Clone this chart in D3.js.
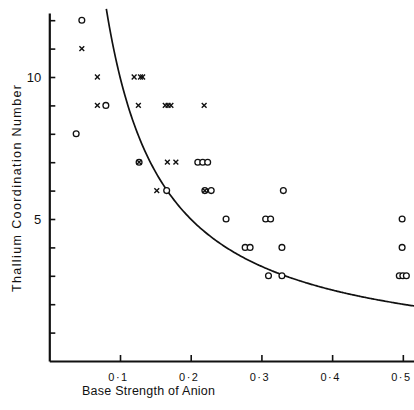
<!DOCTYPE html>
<html>
<head>
<meta charset="utf-8">
<script src="https://cdn.jsdelivr.net/npm/d3@7"></script>
<style>
  html, body { margin: 0; padding: 0; background: #fff; }
  svg { display: block; }
  text { font-family: "Liberation Sans", Arial, sans-serif; fill: #111; }
</style>
</head>
<body>
<div id="chart"></div>
<script>
// ---- data ----
const circleX = [0.046, 0.038, 0.080, 0.166, 0.127, 0.210, 0.217, 0.224, 0.220, 0.229, 0.331,
                 0.250, 0.306, 0.313, 0.277, 0.284, 0.329, 0.310, 0.329, 0.499, 0.499, 0.495, 0.500, 0.505];
const circleY = [12, 8, 9, 6, 7, 7, 7, 7, 6, 6, 6,
                 5, 5, 5, 4, 4, 4, 3, 3, 5, 4, 3, 3, 3];
const crossX = [0.046, 0.068, 0.120, 0.129, 0.132, 0.068, 0.126, 0.164, 0.168, 0.172, 0.219,
                0.127, 0.167, 0.179, 0.152, 0.220];
const crossY = [11, 10, 10, 10, 10, 9, 9, 9, 9, 9, 9,
                7, 7, 7, 6, 6];
const xTickValues = [0.1, 0.2, 0.3, 0.4, 0.5];
const xTickLabels = ["0·1", "0·2", "0·3", "0·4", "0·5"];
const yTickValues = [1, 2, 3, 4, 5, 6, 7, 8, 9, 10, 11, 12];
const yLabelled = [5, 10];
const curveK = 1;           // coordination number = 1 / base strength
const curveYMax = 12.4;
const xTitle = "Base  Strength of Anion";
const yTitle = "Thallium Coordination Number";

// ---- layout ----
const W = 414, H = 410;
const svg = d3.select("#chart").append("svg").attr("width", W).attr("height", H);

const x = d3.scaleLinear().domain([0, 0.5165]).range([49.3, 414.5]);
const y = d3.scaleLinear().domain([0, 12.25]).range([361, 13.1]);

// axes
const xAxis = d3.axisBottom(x).tickValues(xTickValues)
  .tickSizeInner(-6).tickSizeOuter(0)
  .tickFormat((d, i) => xTickLabels[i]);
const gx = svg.append("g").attr("transform", `translate(0,${y(0)})`).call(xAxis);
gx.select(".domain").attr("stroke", "#111").attr("stroke-width", 1.8);
gx.selectAll(".tick line").attr("stroke", "#111").attr("stroke-width", 1.6);
gx.selectAll(".tick text").attr("y", 12).attr("x", -2).attr("dy", "0.71em")
  .style("font-size", "11px").style("letter-spacing", "1.5px")
  .style("font-family", "'Liberation Sans', Arial, sans-serif");

const yAxis = d3.axisLeft(y).tickValues(yTickValues)
  .tickSizeInner(-6).tickSizeOuter(0)
  .tickFormat(d => yLabelled.includes(d) ? String(d) : "");
const gy = svg.append("g").attr("transform", `translate(${x(0)},0)`).call(yAxis);
gy.select(".domain").attr("stroke", "#111").attr("stroke-width", 2.2);
gy.selectAll(".tick line").attr("stroke", "#111").attr("stroke-width", 1.6);
gy.selectAll(".tick text").attr("x", -8)
  .style("font-size", "13px")
  .style("font-family", "'Liberation Sans', Arial, sans-serif");

// titles
svg.append("text")
  .attr("x", 82).attr("y", 394.5)
  .attr("textLength", 133).attr("lengthAdjust", "spacing")
  .style("font-size", "12.5px")
  .text(xTitle);

svg.append("text")
  .attr("transform", `translate(20.5,188.5) rotate(-90)`)
  .attr("text-anchor", "middle")
  .attr("textLength", 207).attr("lengthAdjust", "spacing")
  .style("font-size", "12.5px")
  .text(yTitle);

// curve y = k / x
const xStart = curveK / curveYMax;
const xs = d3.range(0, 201).map(i => xStart + (0.5165 - xStart) * i / 200);
const line = d3.line().x(d => x(d)).y(d => y(curveK / d)).curve(d3.curveBasis);
svg.append("path").datum(xs)
  .attr("d", line).attr("fill", "none")
  .attr("stroke", "#111").attr("stroke-width", 1.7);

// circles
const circles = circleX.map((v, i) => [v, circleY[i]]);
svg.append("g").selectAll("circle").data(circles).join("circle")
  .attr("cx", d => x(d[0])).attr("cy", d => y(d[1])).attr("r", 2.9)
  .attr("fill", "#fff").attr("stroke", "#111").attr("stroke-width", 1.3);

// crosses
const crosses = crossX.map((v, i) => [v, crossY[i]]);
const s = 2.4;
svg.append("g").selectAll("path").data(crosses).join("path")
  .attr("d", d => {
    const cx = x(d[0]), cy = y(d[1]);
    return `M${cx - s},${cy - s}L${cx + s},${cy + s}M${cx + s},${cy - s}L${cx - s},${cy + s}`;
  })
  .attr("fill", "none").attr("stroke", "#111").attr("stroke-width", 1.4);
</script>
</body>
</html>
